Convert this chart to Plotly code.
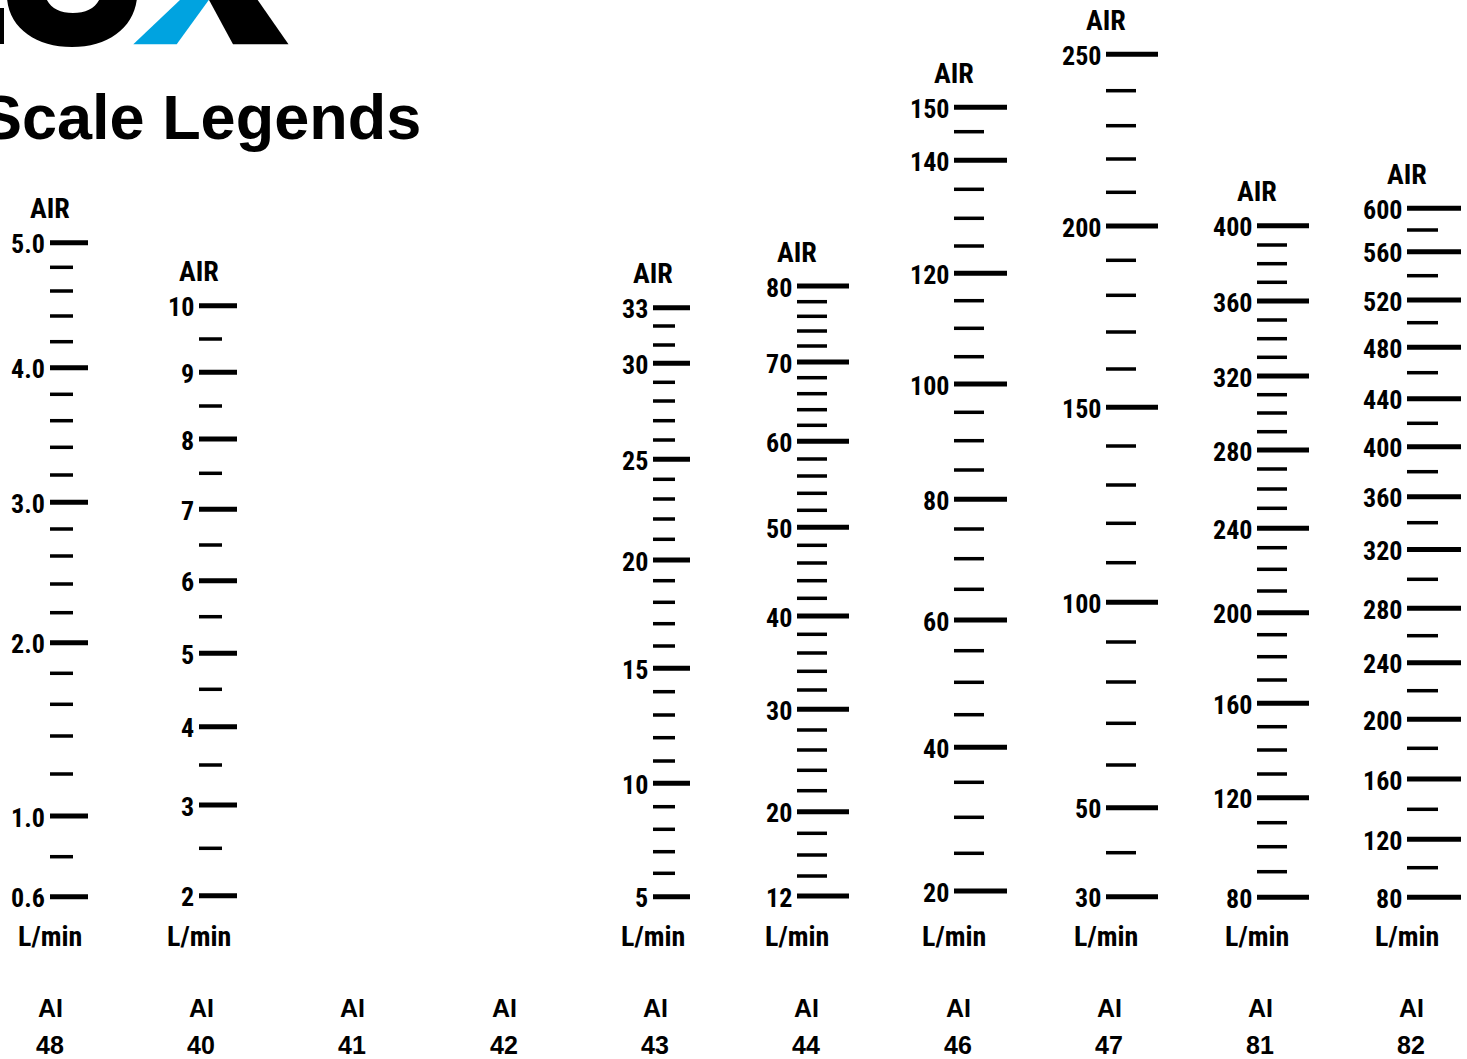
import plotly.graph_objects as go

# ---------------- data ----------------
model_numbers = ["48", "40", "41", "42", "43", "44", "46", "47", "81", "82"]
model_prefix = "AI"
gas_label = "AIR"
unit_label = "L/min"
title_text = "Scale Legends"

# graduation labels and measured graduation positions along each tube scale
ai48_major_labels = ["5.0", "4.0", "3.0", "2.0", "1.0", "0.6"]
ai48_major_pos = [242.7, 367.7, 502.3, 642.7, 816.0, 896.7]
ai48_minor_pos = [267.3, 291, 316, 341.7, 394.3, 420.7, 447.3, 475, 529, 556,
                  584, 612.7, 673.3, 704.3, 736, 774, 856.7]

ai40_major_labels = ["10", "9", "8", "7", "6", "5", "4", "3", "2"]
ai40_major_pos = [305.7, 372.3, 439, 509.3, 580.7, 653.3, 726.7, 805, 895.7]
ai40_minor_pos = [339, 406, 473.3, 545, 616.7, 689.3, 765, 848.3]

ai43_major_labels = ["33", "30", "25", "20", "15", "10", "5"]
ai43_major_pos = [307.7, 363.3, 459.3, 560, 668.3, 783.3, 896.7]
ai43_minor_pos = [326, 345, 382.3, 401, 420.7, 440, 479.3, 499, 519, 539.3,
                  580.7, 602.3, 623.7, 646, 691.7, 715, 737.7, 761, 806.7,
                  829.3, 851.7, 873.3]

ai44_major_labels = ["80", "70", "60", "50", "40", "30", "20", "12"]
ai44_major_pos = [286, 362, 441.3, 527.3, 616, 709.3, 811.7, 896]
ai44_minor_pos = [301.7, 316.3, 331, 346, 377.7, 393.7, 409.7, 425.3, 459, 476,
                  493.3, 510.3, 545.3, 563, 580.7, 598.3, 634.3, 653, 671.3,
                  690, 730, 750, 770.3, 790.7, 833.3, 855, 876]

ai46_major_labels = ["150", "140", "120", "100", "80", "60", "40", "20"]
ai46_major_pos = [107.3, 160.3, 273.3, 384, 499.3, 620, 747.3, 891]
ai46_minor_pos = [131.7, 189.3, 218.3, 246, 300.7, 328.3, 356.7, 412.3, 440.7,
                  470, 529, 558.7, 589.3, 650.7, 682.3, 714.7, 782.3, 817.3,
                  853.3]

ai47_major_labels = ["250", "200", "150", "100", "50", "30"]
ai47_major_pos = [54.3, 226, 407.3, 602.3, 807.7, 896.7]
ai47_minor_pos = [90.7, 125.7, 159, 192.3, 260.3, 295.3, 332, 369, 446, 485,
                  523.3, 562.7, 642, 682, 723.3, 765, 852.7]

ai81_major_labels = ["400", "360", "320", "280", "240", "200", "160", "120", "80"]
ai81_major_pos = [225.7, 301, 376, 450, 528.3, 612.7, 703.3, 797.7, 897.3]
ai81_minor_pos = [245, 263.7, 282.3, 320, 338.7, 357.3, 394.7, 413, 431.7, 469,
                  489, 508.3, 547.7, 569.3, 591, 634.7, 656.7, 680, 726.7, 750,
                  774, 822.7, 846.7, 871.7]

ai82_major_labels = ["600", "560", "520", "480", "440", "400", "360", "320",
                     "280", "240", "200", "160", "120", "80"]
ai82_major_pos = [208.3, 251.7, 300, 347.3, 398.7, 446.7, 496.7, 549.5, 608.3,
                  662.7, 719.3, 779, 839.3, 897.3]
ai82_minor_pos = [230, 275.7, 322.7, 372.7, 423.3, 471.7, 522.7, 579.3, 635.7,
                  690.7, 748.3, 809.3, 867.7]

scales = {
    "48": (ai48_major_labels, ai48_major_pos, ai48_minor_pos),
    "40": (ai40_major_labels, ai40_major_pos, ai40_minor_pos),
    "43": (ai43_major_labels, ai43_major_pos, ai43_minor_pos),
    "44": (ai44_major_labels, ai44_major_pos, ai44_minor_pos),
    "46": (ai46_major_labels, ai46_major_pos, ai46_minor_pos),
    "47": (ai47_major_labels, ai47_major_pos, ai47_minor_pos),
    "81": (ai81_major_labels, ai81_major_pos, ai81_minor_pos),
    "82": (ai82_major_labels, ai82_major_pos, ai82_minor_pos),
}

# ---------------- layout / style ----------------
W, H = 1467, 1059
model_label_x = [50, 201, 352, 504, 655, 806, 958, 1109, 1260, 1411]
# scale x origin, major tick length, minor tick length
scale_geom = {
    "48": (50, 38, 23),
    "40": (199, 38, 23),
    "43": (653, 37, 22),
    "44": (797, 52, 30),
    "46": (954, 53, 30),
    "47": (1106, 52, 30),
    "81": (1257, 52, 30),
    "82": (1407, 54, 31),
}
NARROW = ("Liberation Sans Narrow, Arial Narrow, Roboto Condensed, "
          "DejaVu Sans Condensed, Liberation Sans, Arial, sans-serif")
WIDE = "Liberation Sans, Arial, sans-serif"
BLUE = "#00A3E0"

fig = go.Figure()
annotations = []

for model, (labels, major_pos, minor_pos) in scales.items():
    x0, maj_len, min_len = scale_geom[model]
    xs, ys = [], []
    for p in major_pos:
        xs += [x0, x0 + maj_len, None]
        ys += [p, p, None]
    fig.add_trace(go.Scatter(x=xs, y=ys, mode="lines",
                             line=dict(color="black", width=5),
                             hoverinfo="skip", showlegend=False))
    xs, ys = [], []
    for p in minor_pos:
        xs += [x0, x0 + min_len, None]
        ys += [p, p, None]
    fig.add_trace(go.Scatter(x=xs, y=ys, mode="lines",
                             line=dict(color="black", width=3.5),
                             hoverinfo="skip", showlegend=False))
    for lab, p in zip(labels, major_pos):
        annotations.append(dict(x=x0 - 3, y=p + 1.5, text=lab, xanchor="right",
                                yanchor="middle", showarrow=False,
                                font=dict(family=NARROW, size=26, color="black",
                                          weight="bold")))
    annotations.append(dict(x=x0, y=major_pos[0] - 34, text=gas_label,
                            xanchor="center", yanchor="middle", showarrow=False,
                            font=dict(family=NARROW, size=28, color="black",
                                      weight="bold")))
    annotations.append(dict(x=x0, y=936, text=unit_label, xanchor="center",
                            yanchor="middle", showarrow=False,
                            font=dict(family=NARROW, size=28, color="black",
                                      weight="bold")))

for mx, num in zip(model_label_x, model_numbers):
    annotations.append(dict(x=mx, y=1008, text=model_prefix, xanchor="center",
                            yanchor="middle", showarrow=False,
                            font=dict(family=WIDE, size=25, color="black",
                                      weight="bold")))
    annotations.append(dict(x=mx, y=1045, text=num, xanchor="center",
                            yanchor="middle", showarrow=False,
                            font=dict(family=WIDE, size=25, color="black",
                                      weight="bold")))

annotations.append(dict(x=423, y=117, text=title_text, xanchor="right",
                        yanchor="middle", showarrow=False,
                        font=dict(family=WIDE, size=63, color="black",
                                  weight="bold")))

# logo fragment at the top (cropped brand mark)
shapes = [
    dict(type="rect", x0=-2, x1=4, y0=8, y1=44, fillcolor="black", line_width=0,
         xref="x", yref="y"),
    dict(type="path", xref="x", yref="y", fillcolor="black", line_width=0,
         path="M 7,-2 C 9,28 36,47 72,47 C 108,47 134,28 137,-2 Z "
              "M 46,-2 C 50,8 60,13 73,13 C 86,13 96,8 100,-2 Z"),
    dict(type="path", xref="x", yref="y", fillcolor=BLUE, line_width=0,
         path="M 133.3,44.3 L 176.7,44.3 L 209.5,-1 L 181,-1 Z"),
    dict(type="path", xref="x", yref="y", fillcolor="black", line_width=0,
         path="M 208.5,-1 L 233,44.3 L 288.5,44.3 L 257,-1 Z"),
]

fig.update_layout(
    width=W, height=H,
    margin=dict(l=0, r=0, t=0, b=0),
    paper_bgcolor="white", plot_bgcolor="white",
    xaxis=dict(range=[0, W], visible=False, fixedrange=True),
    yaxis=dict(range=[H, 0], visible=False, fixedrange=True),
    annotations=annotations,
    shapes=shapes,
    showlegend=False,
)

fig.write_html("out.html", config={"displayModeBar": False},
               post_script="document.body.style.margin='0';"
                           "document.body.style.overflow='hidden';")
